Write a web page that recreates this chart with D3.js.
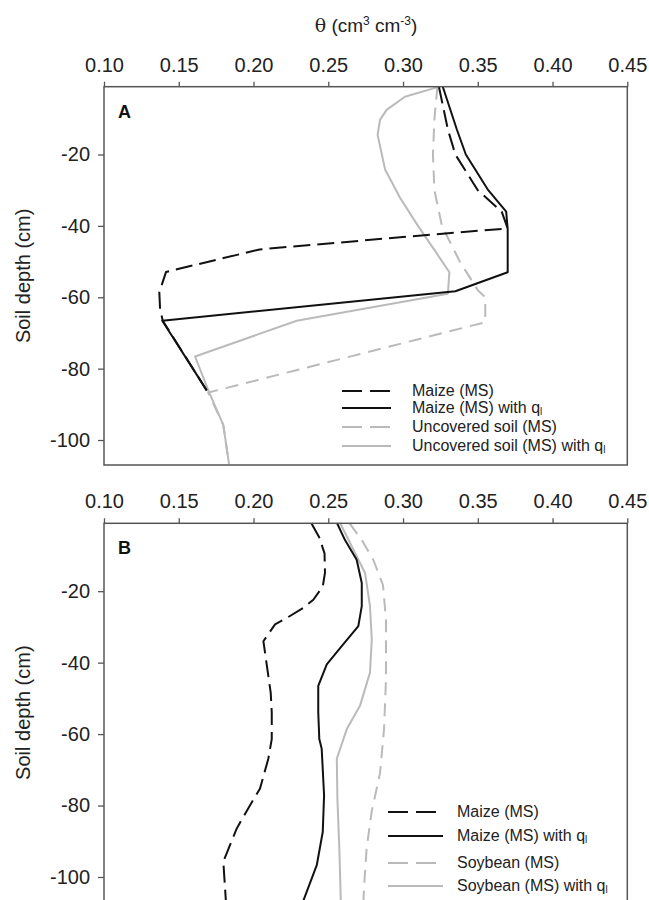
<!DOCTYPE html>
<html>
<head>
<meta charset="utf-8">
<script src="https://cdn.jsdelivr.net/npm/d3@7"></script>
<style>
  body { margin: 0; background: #fff; }
  svg { display: block; font-family: Arial, "Liberation Sans", sans-serif; }
</style>
</head>
<body>
<div id="chart"></div>
<script>
// x ticks shared by both panels
const thetaTicks = [0.10, 0.15, 0.20, 0.25, 0.30, 0.35, 0.40, 0.45];
const depthTicks = [-20, -40, -60, -80, -100];

// Panel A
const depthA_maize = [-1, -13, -20, -30, -36, -40.7, -43.2, -46.6, -52.9, -58.6, -63.3, -66.6, -86.1];
const thetaA_maize = [0.324, 0.330, 0.335, 0.350, 0.366, 0.370, 0.298, 0.204, 0.1415, 0.137, 0.1375, 0.1393, 0.1687];
const depthA_maizeQ = [-1, -13, -20, -30, -36, -41, -53, -58.3, -66.6, -86.1];
const thetaA_maizeQ = [0.3266, 0.336, 0.342, 0.357, 0.369, 0.370, 0.370, 0.335, 0.139, 0.1687];
const depthA_soil = [-1, -10, -20, -30, -40, -50, -58, -60, -67, -86.7, -95.8, -106.7];
const thetaA_soil = [0.323, 0.321, 0.320, 0.321, 0.326, 0.338, 0.350, 0.355, 0.355, 0.1697, 0.1798, 0.1836];
const depthA_soilQ = [-1.2, -3.8, -7.5, -10.3, -14.5, -24.2, -32.1, -40, -48, -53, -59, -66.6, -76.6, -86.1, -95.8, -106.7];
const thetaA_soilQ = [0.3226, 0.3013, 0.289, 0.2846, 0.283, 0.288, 0.298, 0.31, 0.323, 0.331, 0.330, 0.2289, 0.1609, 0.1698, 0.1798, 0.1836];

// Panel B
const depthB_maize = [-1, -5, -9.4, -14.9, -18.7, -22.4, -24.7, -27.5, -29.3, -34, -37.2, -43.7, -48.4, -53.9, -61.4, -66.9, -75.3, -79.9, -86.4, -95.7, -105.9, -107];
const thetaB_maize = [0.2387, 0.244, 0.2475, 0.2478, 0.2463, 0.2400, 0.2333, 0.2222, 0.2144, 0.2066, 0.2077, 0.2099, 0.2115, 0.2122, 0.2122, 0.2099, 0.2043, 0.1977, 0.1888, 0.1798, 0.1814, 0.1815];
const depthB_maizeQ = [-1, -5.7, -11.2, -17.7, -24.2, -29.8, -35.4, -40.5, -46.5, -53.9, -61.4, -64.1, -77.2, -87.4, -96.7, -107];
const thetaB_maizeQ = [0.2559, 0.2612, 0.2690, 0.2724, 0.2724, 0.2701, 0.2590, 0.2490, 0.2433, 0.2433, 0.2440, 0.2456, 0.2472, 0.2463, 0.2423, 0.2330];
const depthB_soy = [-1, -5.7, -11.2, -18.3, -28, -44.7, -58.6, -71, -81.5, -91.7, -103, -107];
const thetaB_soy = [0.2643, 0.2724, 0.2801, 0.2866, 0.2886, 0.2886, 0.2873, 0.2846, 0.2791, 0.2757, 0.2739, 0.2735];
const depthB_soyQ = [-1, -14.9, -24.2, -33.5, -42.8, -52.1, -58.6, -66.9, -78.1, -92, -107];
const thetaB_soyQ = [0.258, 0.2746, 0.2779, 0.2791, 0.2779, 0.2712, 0.2624, 0.2557, 0.2561, 0.2574, 0.2584];

const labelsA = ["Maize (MS)", "Maize (MS) with q", "Uncovered soil (MS)", "Uncovered soil (MS) with q"];
const labelsB = ["Maize (MS)", "Maize (MS) with q", "Soybean (MS)", "Soybean (MS) with q"];

const W = 649, H = 900;
const GRAY = "#bababa";
const styles = [
  { color: "#111", dash: "17,7" },
  { color: "#111", dash: null },
  { color: GRAY, dash: "13,8" },
  { color: GRAY, dash: null }
];

const svg = d3.select("#chart").append("svg")
  .attr("width", W)
  .attr("height", H);

const x = d3.scaleLinear().domain([0.10, 0.45]).range([104, 627.3]);

// axis title
const title = svg.append("text")
  .attr("x", 366)
  .attr("y", 32)
  .attr("text-anchor", "middle")
  .style("font-size", "19px")
  .style("fill", "#222");
title.append("tspan").style("font-family", "'DejaVu Serif', 'Liberation Serif', serif").text("θ");
title.append("tspan").text(" (cm");
title.append("tspan").attr("baseline-shift", "super").style("font-size", "12px").text("3");
title.append("tspan").text(" cm");
title.append("tspan").attr("baseline-shift", "super").style("font-size", "12px").text("-3");
title.append("tspan").text(")");

function drawPanel(top, bottom, letter, series, labels, legend) {
  const y = d3.scaleLinear().domain([-1, -107]).range([top, bottom]);
  const g = svg.append("g");

  // top axis
  const xAxis = g.append("g")
    .attr("transform", `translate(0,${top})`)
    .call(d3.axisTop(x).tickValues(thetaTicks).tickFormat(d3.format(".2f")).tickSize(5).tickSizeOuter(0).tickPadding(10));
  xAxis.select(".domain").remove();
  xAxis.selectAll("line").attr("stroke", "#555").attr("stroke-width", 1.3);
  xAxis.selectAll("text").style("font-size", "20px").style("fill", "#222").attr("font-family", null);

  // left axis, plain hyphen for minus
  const yAxis = g.append("g")
    .attr("transform", `translate(104,0)`)
    .call(d3.axisLeft(y).tickValues(depthTicks).tickFormat(d => String(d)).tickSize(6).tickSizeOuter(0).tickPadding(8));
  yAxis.select(".domain").remove();
  yAxis.selectAll("line").attr("stroke", "#555").attr("stroke-width", 1.3);
  yAxis.selectAll("text").style("font-size", "20px").style("fill", "#222").attr("font-family", null);

  g.append("text")
    .attr("transform", `translate(30,${(top + bottom) / 2}) rotate(-90)`)
    .attr("text-anchor", "middle")
    .style("font-size", "20px")
    .style("fill", "#222")
    .text("Soil depth (cm)");

  // curves, gray first so black lies on top
  const line = d3.line().x(d => x(d[1])).y(d => y(d[0]));
  [2, 3, 0, 1].forEach(i => {
    const s = series[i];
    g.append("path")
      .datum(d3.zip(s[0], s[1]))
      .attr("d", line)
      .attr("fill", "none")
      .attr("stroke", styles[i].color)
      .attr("stroke-width", 2)
      .attr("stroke-linejoin", "round")
      .attr("stroke-dasharray", styles[i].dash);
  });

  // frame
  g.append("rect")
    .attr("x", 104).attr("y", top)
    .attr("width", 627.3 - 104).attr("height", bottom - top)
    .attr("fill", "none")
    .attr("stroke", "#555")
    .attr("stroke-width", 1.5);

  g.append("text")
    .attr("x", 118).attr("y", top + 31)
    .style("font-size", "18px")
    .style("font-weight", "bold")
    .style("fill", "#111")
    .text(letter);

  // legend
  labels.forEach((lab, i) => {
    const ly = legend.ys[i];
    g.append("line")
      .attr("x1", legend.x0).attr("x2", legend.x0 + legend.len)
      .attr("y1", ly).attr("y2", ly)
      .attr("stroke", styles[i].color)
      .attr("stroke-width", 2)
      .attr("stroke-dasharray", styles[i].dash ? "20,8" : null);
    const t = g.append("text")
      .attr("x", legend.tx).attr("y", ly + 5)
      .style("font-size", "16px")
      .style("fill", "#222")
      .text(lab);
    if (i % 2 === 1) {
      t.append("tspan").attr("baseline-shift", "-15%").style("font-size", "10px").text("l");
    }
  });
}

drawPanel(86.7, 465, "A",
  [[depthA_maize, thetaA_maize], [depthA_maizeQ, thetaA_maizeQ], [depthA_soil, thetaA_soil], [depthA_soilQ, thetaA_soilQ]],
  labelsA, { x0: 342, len: 49, tx: 412, ys: [391, 408, 427, 446] });

drawPanel(523.3, 902, "B",
  [[depthB_maize, thetaB_maize], [depthB_maizeQ, thetaB_maizeQ], [depthB_soy, thetaB_soy], [depthB_soyQ, thetaB_soyQ]],
  labelsB, { x0: 388, len: 55, tx: 457, ys: [812, 836, 863, 886] });
</script>
</body>
</html>
